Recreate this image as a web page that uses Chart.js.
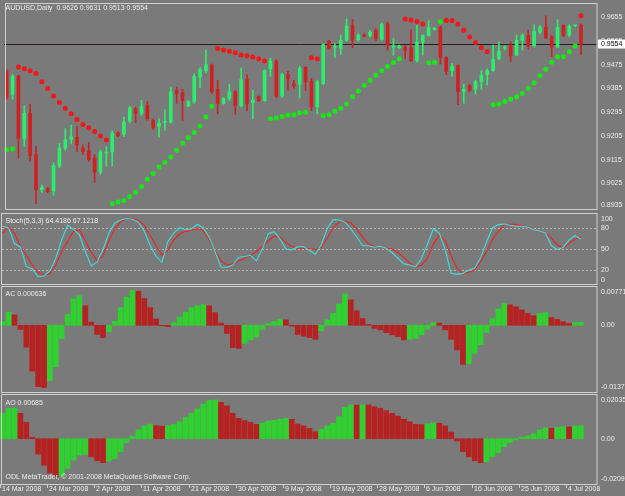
<!DOCTYPE html>
<html>
<head>
<meta charset="utf-8">
<script src="https://cdn.jsdelivr.net/npm/chart.js@4.4.1/dist/chart.umd.min.js"></script>
<style>
  body { margin: 0; background: #7a7a7a; width: 625px; height: 496px; overflow: hidden; position: relative; }
  canvas { position: absolute; left: 0; }
</style>
</head>
<body>
<canvas id="priceChart" width="625" height="213" style="top:0"></canvas>
<canvas id="stochChart" width="625" height="72" style="top:213px"></canvas>
<canvas id="acChart" width="625" height="109" style="top:285px"></canvas>
<canvas id="aoChart" width="625" height="102" style="top:394px"></canvas>
<script>
// ---- data (AUDUSD daily, one value per bar) ----
const symbol = 'AUDUSD,Daily';
const dateLabels = ['14 Mar 2008', '24 Mar 2008', '2 Apr 2008', '11 Apr 2008', '21 Apr 2008', '30 Apr 2008',
  '9 May 2008', '19 May 2008', '28 May 2008', '6 Jun 2008', '16 Jun 2008', '25 Jun 2008', '4 Jul 2008'];
const dateBars = [0, 8, 16, 24, 32, 40, 48, 56, 64, 72, 80, 88, 96];

const opens = [
  0.9450, 0.9363, 0.9432, 0.9196, 0.9291, 0.9134, 0.9001, 0.9006, 0.8997, 0.9091,
  0.9159, 0.9192, 0.9200, 0.9159, 0.9150, 0.9122, 0.9068, 0.9140, 0.9144, 0.9217,
  0.9212, 0.9262, 0.9308, 0.9291, 0.9320, 0.9264, 0.9242, 0.9257, 0.9258, 0.9378,
  0.9370, 0.9318, 0.9336, 0.9428, 0.9453, 0.9475, 0.9382, 0.9329, 0.9347, 0.9373,
  0.9320, 0.9419, 0.9332, 0.9354, 0.9339, 0.9460, 0.9490, 0.9357, 0.9438, 0.9403,
  0.9401, 0.9465, 0.9413, 0.9316, 0.9404, 0.9565, 0.9542, 0.9537, 0.9568, 0.9624,
  0.9570, 0.9589, 0.9587, 0.9606, 0.9572, 0.9630, 0.9542, 0.9540, 0.9543, 0.9540,
  0.9490, 0.9562, 0.9587, 0.9609, 0.9618, 0.9503, 0.9453, 0.9472, 0.9373, 0.9395,
  0.9382, 0.9411, 0.9438, 0.9453, 0.9498, 0.9538, 0.9547, 0.9512, 0.9568, 0.9587,
  0.9547, 0.9599, 0.9618, 0.9581, 0.9543, 0.9624, 0.9589, 0.9623, 0.9626];
const highs = [
  0.9457, 0.9438, 0.9435, 0.9320, 0.9326, 0.9165, 0.9019, 0.9010, 0.9103, 0.9177,
  0.9233, 0.9246, 0.9242, 0.9171, 0.9180, 0.9134, 0.9152, 0.9165, 0.9224, 0.9221,
  0.9277, 0.9317, 0.9314, 0.9341, 0.9336, 0.9270, 0.9270, 0.9304, 0.9391, 0.9391,
  0.9382, 0.9339, 0.9440, 0.9465, 0.9531, 0.9478, 0.9416, 0.9351, 0.9401, 0.9378,
  0.9463, 0.9438, 0.9378, 0.9357, 0.9457, 0.9500, 0.9494, 0.9444, 0.9450, 0.9416,
  0.9469, 0.9469, 0.9423, 0.9416, 0.9556, 0.9568, 0.9556, 0.9589, 0.9649, 0.9647,
  0.9593, 0.9593, 0.9606, 0.9612, 0.9634, 0.9637, 0.9575, 0.9550, 0.9550, 0.9609,
  0.9624, 0.9589, 0.9643, 0.9617, 0.9622, 0.9506, 0.9481, 0.9475, 0.9401, 0.9401,
  0.9416, 0.9453, 0.9460, 0.9550, 0.9562, 0.9547, 0.9562, 0.9589, 0.9593, 0.9606,
  0.9627, 0.9624, 0.9661, 0.9587, 0.9646, 0.9627, 0.9627, 0.9627, 0.9631];
const lows = [
  0.9345, 0.9345, 0.9121, 0.9165, 0.9109, 0.8948, 0.8991, 0.8989, 0.8979, 0.9084,
  0.9152, 0.9177, 0.9146, 0.9134, 0.9109, 0.9029, 0.9060, 0.9091, 0.9091, 0.9202,
  0.9202, 0.9255, 0.9256, 0.9283, 0.9264, 0.9229, 0.9200, 0.9227, 0.9254, 0.9329,
  0.9264, 0.9316, 0.9329, 0.9388, 0.9444, 0.9366, 0.9289, 0.9326, 0.9339, 0.9287,
  0.9314, 0.9301, 0.9270, 0.9336, 0.9336, 0.9432, 0.9351, 0.9351, 0.9378, 0.9386,
  0.9349, 0.9378, 0.9301, 0.9289, 0.9401, 0.9535, 0.9503, 0.9515, 0.9565, 0.9540,
  0.9565, 0.9581, 0.9581, 0.9568, 0.9568, 0.9531, 0.9512, 0.9537, 0.9500, 0.9488,
  0.9485, 0.9512, 0.9584, 0.9607, 0.9478, 0.9438, 0.9432, 0.9324, 0.9329, 0.9373,
  0.9363, 0.9382, 0.9398, 0.9450, 0.9494, 0.9531, 0.9488, 0.9510, 0.9531, 0.9535,
  0.9543, 0.9593, 0.9575, 0.9506, 0.9540, 0.9581, 0.9581, 0.9620, 0.9513];
const closes = [
  0.9351, 0.9432, 0.9196, 0.9291, 0.9130, 0.9001, 0.9010, 0.8994, 0.9093, 0.9159,
  0.9192, 0.9202, 0.9171, 0.9146, 0.9115, 0.9068, 0.9144, 0.9144, 0.9215, 0.9207,
  0.9258, 0.9312, 0.9291, 0.9317, 0.9271, 0.9237, 0.9254, 0.9259, 0.9373, 0.9366,
  0.9339, 0.9336, 0.9432, 0.9457, 0.9475, 0.9373, 0.9329, 0.9347, 0.9372, 0.9320,
  0.9419, 0.9329, 0.9341, 0.9339, 0.9454, 0.9490, 0.9354, 0.9438, 0.9423, 0.9395,
  0.9463, 0.9411, 0.9316, 0.9411, 0.9552, 0.9537, 0.9545, 0.9568, 0.9622, 0.9568,
  0.9587, 0.9584, 0.9599, 0.9575, 0.9628, 0.9550, 0.9545, 0.9546, 0.9531, 0.9490,
  0.9562, 0.9587, 0.9618, 0.9614, 0.9503, 0.9450, 0.9469, 0.9373, 0.9382, 0.9378,
  0.9411, 0.9435, 0.9453, 0.9496, 0.9527, 0.9541, 0.9510, 0.9568, 0.9587, 0.9547,
  0.9602, 0.9618, 0.9577, 0.9543, 0.9618, 0.9587, 0.9622, 0.9624, 0.9554];

// parabolic SAR, split by trend colour
const sarBull = [
  0.9153, 0.9156, null, null, null, null, null, null, null, null,
  null, null, null, null, null, null, null, null, 0.8948, 0.8954,
  0.8960, 0.8975, 0.8991, 0.9013, 0.9041, 0.9063, 0.9087, 0.9105, 0.9125, 0.9151,
  0.9177, 0.9198, 0.9218, 0.9243, 0.9277, 0.9318, null, null, null, null,
  null, null, null, null, null, 0.9270, 0.9273, 0.9279, 0.9285, 0.9286,
  0.9293, 0.9295, null, null, 0.9282, 0.9286, 0.9299, 0.9310, 0.9326, 0.9354,
  0.9376, 0.9398, 0.9417, 0.9436, 0.9453, 0.9469, 0.9484, 0.9498, null, null,
  null, null, 0.9483, 0.9485, 0.9639, null, null, null, null, null,
  null, null, null, 0.9324, 0.9326, 0.9336, 0.9345, 0.9354, 0.9366, 0.9386,
  0.9407, 0.9434, 0.9458, 0.9485, 0.9506, 0.9506, 0.9525, 0.9547, null];
const sarBear = [
  null, null, 0.9467, 0.9460, 0.9453, 0.9442, 0.9411, 0.9385, 0.9357, 0.9332,
  0.9310, 0.9289, 0.9268, 0.9249, 0.9236, 0.9222, 0.9205, 0.9190, null, null,
  null, null, null, null, null, null, null, null, null, null,
  null, null, null, null, null, null, 0.9537, 0.9531, 0.9527, 0.9521,
  0.9512, 0.9510, 0.9505, 0.9498, 0.9490, null, null, null, null, null,
  null, null, 0.9502, 0.9498, null, null, null, null, null, null,
  null, null, null, null, null, null, null, null, 0.9649, 0.9645,
  0.9640, 0.9630, null, null, null, 0.9643, 0.9643, 0.9630, 0.9606, 0.9581,
  0.9560, 0.9540, 0.9525, null, null, null, null, null, null, null,
  null, null, null, null, null, null, null, null, 0.9661];

const stochMain = [
  82.4, 80.0, 57.5, 53.0, 24.8, 21.5, 10.4, 11.4, 18.6, 36.8,
  63.2, 83.9, 78.0, 70.4, 46.4, 25.8, 31.5, 49.3, 72.8, 87.2,
  91.5, 93.5, 92.5, 88.2, 75.2, 55.0, 39.7, 31.0, 60.8, 72.8,
  80.5, 77.6, 78.6, 85.3, 80.0, 66.6, 46.4, 23.9, 23.9, 27.2,
  38.3, 39.2, 41.1, 33.0, 49.8, 71.9, 74.7, 64.6, 49.8, 48.8,
  53.1, 53.6, 47.9, 42.6, 56.0, 79.0, 92.0, 91.5, 88.2, 78.6,
  67.5, 54.6, 54.6, 52.6, 54.0, 51.2, 45.0, 36.8, 28.7, 27.2,
  24.8, 36.8, 57.0, 79.0, 72.8, 48.8, 15.2, 13.8, 15.2, 20.0,
  22.4, 37.8, 59.9, 80.0, 84.8, 85.8, 83.9, 82.4, 82.4, 81.0,
  77.6, 75.7, 72.8, 54.6, 49.3, 52.2, 63.0, 69.0, 64.4186];
const stochSignal = [
  72.8, 82.0, 72.3, 53.6, 41.1, 27.2, 16.7, 12.8, 15.2, 27.2,
  46.4, 60.8, 75.2, 77.6, 61.8, 45.4, 33.0, 40.6, 61.8, 79.0,
  89.2, 93.0, 93.5, 90.6, 83.9, 69.0, 54.6, 41.6, 48.8, 63.2,
  71.4, 75.2, 77.1, 79.0, 76.6, 63.2, 47.4, 33.0, 27.2, 28.7,
  33.0, 36.8, 40.6, 46.4, 53.6, 61.8, 68.5, 66.6, 59.4, 53.6,
  51.2, 51.2, 50.7, 49.3, 52.6, 65.6, 80.0, 88.7, 89.6, 87.2,
  78.6, 67.0, 57.5, 53.6, 53.6, 51.2, 50.3, 45.0, 37.8, 29.6,
  24.8, 27.2, 36.8, 57.0, 69.5, 61.8, 40.6, 22.4, 15.2, 16.7,
  20.0, 32.0, 46.4, 63.2, 75.2, 83.9, 85.8, 84.8, 83.4, 80.0,
  77.6, 76.2, 72.8, 65.6, 56.0, 51.2, 58.0, 64.0, 67.1218];

const acValues = [
  0.0008, 0.0029, 0.0023, -0.0009, -0.0048, -0.0101, -0.0135, -0.0137, -0.0122, -0.0091,
  -0.0029, 0.0024, 0.0058, 0.0065, 0.0043, 0.0007, -0.0020, -0.0027, -0.0014, 0.0009,
  0.0039, 0.0062, 0.00771, 0.0075, 0.0059, 0.0039, 0.0014, -0.0001, -0.0003, 0.0006,
  0.0018, 0.0029, 0.0039, 0.0043, 0.0045, 0.0043, 0.0028, 0.0005, -0.0018, -0.0049,
  -0.0051, -0.0040, -0.0032, -0.0026, -0.0009, 0.0004, 0.0008, 0.0013, 0.0012, -0.0002,
  -0.0020, -0.0024, -0.0027, -0.0031, -0.0012, 0.0012, 0.0026, 0.0047, 0.0069, 0.0056,
  0.0032, 0.0015, 0.0002, -0.0007, -0.0010, -0.0016, -0.0021, -0.0025, -0.0032, -0.0031,
  -0.0029, -0.0021, -0.0009, 0.0006, 0.0005, -0.0010, -0.0031, -0.0054, -0.0086, -0.0085,
  -0.0062, -0.0043, -0.0016, 0.0015, 0.0036, 0.0048, 0.0045, 0.0041, 0.0034, 0.0026,
  0.0021, 0.0026, 0.0028, 0.0017, 0.0013, 0.0008, 0.0004, 0.0006, 0.000636];
const aoValues = [
  0.0133, 0.0160, 0.0161, 0.0133, 0.0086, 0.0007, -0.0081, -0.0139, -0.0180, -0.0199,
  -0.0196, -0.0156, -0.0112, -0.0086, -0.0082, -0.0095, -0.0116, -0.0126, -0.0116, -0.0104,
  -0.0068, -0.0021, 0.0014, 0.0046, 0.0067, 0.0077, 0.0068, 0.0066, 0.0068, 0.0075,
  0.0089, 0.0111, 0.0133, 0.0156, 0.0182, 0.0202, 0.02035, 0.0191, 0.0172, 0.0133,
  0.0107, 0.0095, 0.0086, 0.0075, 0.0081, 0.0093, 0.0096, 0.0102, 0.0107, 0.0102,
  0.0077, 0.0067, 0.0054, 0.0037, 0.0049, 0.0067, 0.0081, 0.0116, 0.0165, 0.0177,
  0.0176, 0.0178, 0.0177, 0.0168, 0.0160, 0.0147, 0.0133, 0.0119, 0.0102, 0.0089,
  0.0075, 0.0074, 0.0078, 0.0083, 0.0081, 0.0067, 0.0035, -0.0012, -0.0068, -0.0095,
  -0.0116, -0.0126, -0.0121, -0.0095, -0.0074, -0.0042, -0.0021, -0.0007, 0.0007, 0.0014,
  0.0025, 0.0046, 0.0057, 0.0055, 0.0059, 0.0063, 0.0062, 0.0066, 0.00685];

// axis labels on the right side of each window
const priceTicks = [0.9655, 0.9565, 0.9475, 0.9385, 0.9295, 0.9205, 0.9115, 0.9025, 0.8935];
const stochTicks = [100, 80, 50, 20, 0];
const stochLevels = [80, 50, 20];
const acTicks = [0.00771, 0, -0.0137];
const acTickLabels = ['0.00771', '0.00', '-0.01370'];
const aoTicks = [0.02035, 0, -0.02097];
const aoTickLabels = ['0.02035', '0.00', '-0.02097'];

// ---- drawing ----
const FONT = '7px "Liberation Sans", Arial, sans-serif';
const TEXT = '#ececec';
const FRAME = '#cfcfcf';
const BULL = '#2bee6c', BEAR = '#cc2222';
const HIST_UP = '#30d030', HIST_DN = '#b52222';

const bars = opens.map((_, i) => i);
const last = bars.length - 1;

function xAxis() {
  return { type: 'linear', min: -0.46, max: 100.73, offset: false, display: false };
}
function baseOptions(padding, yMin, yMax) {
  return {
    responsive: false, animation: false, devicePixelRatio: 1,
    layout: { padding: padding },
    plugins: { legend: { display: false }, tooltip: { enabled: false } },
    scales: { x: xAxis(), y: { display: false, min: yMin, max: yMax } }
  };
}
function points(arr) {
  return bars.filter(i => arr[i] !== null).map(i => ({ x: i, y: arr[i] }));
}

// frame, window title and right-hand labels
function windowDecor(title, titleDy, ticks, labels) {
  return {
    id: 'windowDecor',
    afterDraw(chart) {
      const { ctx, chartArea: a, scales: { y } } = chart;
      ctx.save();
      ctx.strokeStyle = FRAME;
      ctx.lineWidth = 1;
      ctx.strokeRect(a.left + 1.5, a.top - 0.5, a.right - a.left - 1.5, a.bottom - a.top + 1);
      ctx.font = FONT;
      ctx.fillStyle = TEXT;
      ctx.textBaseline = 'middle';
      ctx.fillText(title, 5.5, a.top + titleDy);
      ticks.forEach((v, k) => {
        let py = y.getPixelForValue(v);
        py = Math.min(Math.max(py, a.top + 5), a.bottom - 4);
        ctx.fillText(labels[k], a.right + 4, py);
      });
      ctx.restore();
    }
  };
}

// price window
const candleColors = bars.map(i => closes[i] >= opens[i] ? BULL : BEAR);
const bidLine = {
  id: 'bidLine',
  beforeDatasetsDraw(chart) {
    const { ctx, chartArea: a, scales: { y } } = chart;
    const py = Math.round(y.getPixelForValue(closes[last])) + 0.5;
    ctx.save();
    ctx.strokeStyle = '#2a1c1c';
    ctx.lineWidth = 1;
    ctx.beginPath(); ctx.moveTo(a.left, py); ctx.lineTo(a.right, py); ctx.stroke();
    ctx.restore();
  },
  afterDraw(chart) {
    const { ctx, chartArea: a, scales: { y } } = chart;
    const py = y.getPixelForValue(closes[last]);
    ctx.save();
    ctx.fillStyle = '#ffffff';
    ctx.fillRect(a.right + 1, py - 4.5, 30, 9);
    ctx.fillStyle = '#000000';
    ctx.font = FONT;
    ctx.textBaseline = 'middle';
    ctx.fillText(closes[last].toFixed(4), a.right + 4, py);
    ctx.restore();
  }
};
const priceTitle = symbol + '  ' + [opens[last], highs[last], lows[last], closes[last]].map(v => v.toFixed(4)).join(' ');

new Chart(document.getElementById('priceChart'), {
  type: 'bar',
  data: {
    datasets: [
      { type: 'scatter', data: points(sarBear), pointRadius: 2.5, pointBorderWidth: 0,
        pointBackgroundColor: '#f01818', order: 0 },
      { type: 'scatter', data: points(sarBull), pointRadius: 2.5, pointBorderWidth: 0,
        pointBackgroundColor: '#18e818', order: 0 },
      { data: bars.map(i => ({ x: i, y: [opens[i], closes[i]] })), backgroundColor: candleColors,
        barThickness: 3, minBarLength: 1, grouped: false, borderWidth: 0, order: 1 },
      { data: bars.map(i => ({ x: i, y: [lows[i], highs[i]] })), backgroundColor: candleColors,
        barThickness: 1, minBarLength: 1, grouped: false, borderWidth: 0, order: 2 }
    ]
  },
  options: baseOptions({ left: 0, right: 28, top: 3, bottom: 1 }, 0.89278, 0.9706),
  plugins: [windowDecor(priceTitle, 3.7, priceTicks, priceTicks.map(v => v.toFixed(4))), bidLine]
});

// stochastic window
const levelLines = {
  id: 'levelLines',
  beforeDatasetsDraw(chart) {
    const { ctx, chartArea: a, scales: { y } } = chart;
    ctx.save();
    ctx.strokeStyle = '#b4b4b4';
    ctx.lineWidth = 1;
    ctx.setLineDash([2, 2]);
    stochLevels.forEach(v => {
      const py = Math.round(y.getPixelForValue(v)) + 0.5;
      ctx.beginPath(); ctx.moveTo(a.left + 2, py); ctx.lineTo(a.right, py); ctx.stroke();
    });
    ctx.restore();
  }
};
new Chart(document.getElementById('stochChart'), {
  type: 'line',
  data: {
    datasets: [
      { data: bars.map(i => ({ x: i, y: stochMain[i] })), borderColor: '#3fdede', borderWidth: 1.1,
        pointRadius: 0, tension: 0, order: 0 },
      { data: bars.map(i => ({ x: i, y: stochSignal[i] })), borderColor: '#f02020', borderWidth: 1.1,
        pointRadius: 0, tension: 0, order: 1 }
    ]
  },
  options: baseOptions({ left: 0, right: 28, top: 1, bottom: 1 }, 0, 100),
  plugins: [levelLines, windowDecor('Stoch(5,3,3) ' + stochMain[last].toFixed(4) + ' ' + stochSignal[last].toFixed(4),
    7, stochTicks, stochTicks.map(String))]
});

// accelerator / awesome oscillator windows
function histColors(vals) {
  return vals.map((v, i) => (i === 0 || v > vals[i - 1]) ? HIST_UP : HIST_DN);
}
new Chart(document.getElementById('acChart'), {
  type: 'bar',
  data: {
    datasets: [{ data: bars.map(i => ({ x: i, y: acValues[i] })), backgroundColor: histColors(acValues),
      barThickness: 5, borderWidth: 0 }]
  },
  options: baseOptions({ left: 0, right: 28, top: 2, bottom: 2 }, -0.01468, 0.00843),
  plugins: [windowDecor('AC ' + acValues[last].toFixed(6), 7, acTicks, acTickLabels)]
});

const timeAxis = {
  id: 'timeAxis',
  afterDraw(chart) {
    const { ctx, chartArea: a, scales: { x } } = chart;
    ctx.save();
    ctx.strokeStyle = FRAME;
    ctx.fillStyle = TEXT;
    ctx.font = FONT;
    ctx.textBaseline = 'middle';
    ctx.fillText('ODL MetaTrader, \u00a9 2001-2008 MetaQuotes Software Corp.', 5.5, a.bottom - 6.7);
    dateBars.forEach((b, k) => {
      const px = Math.round(x.getPixelForValue(b) - 3) + 0.5;
      ctx.beginPath(); ctx.moveTo(px, a.bottom); ctx.lineTo(px, a.bottom + 4); ctx.stroke();
      ctx.fillText(dateLabels[k], px + 1.5, a.bottom + 5.5);
    });
    ctx.restore();
  }
};
new Chart(document.getElementById('aoChart'), {
  type: 'bar',
  data: {
    datasets: [{ data: bars.map(i => ({ x: i, y: aoValues[i] })), backgroundColor: histColors(aoValues),
      barThickness: 5, borderWidth: 0 }]
  },
  options: baseOptions({ left: 0, right: 28, top: 1, bottom: 12 }, -0.02378, 0.02294),
  plugins: [windowDecor('AO ' + aoValues[last].toFixed(5), 7.7, aoTicks, aoTickLabels), timeAxis]
});
</script>
</body>
</html>
